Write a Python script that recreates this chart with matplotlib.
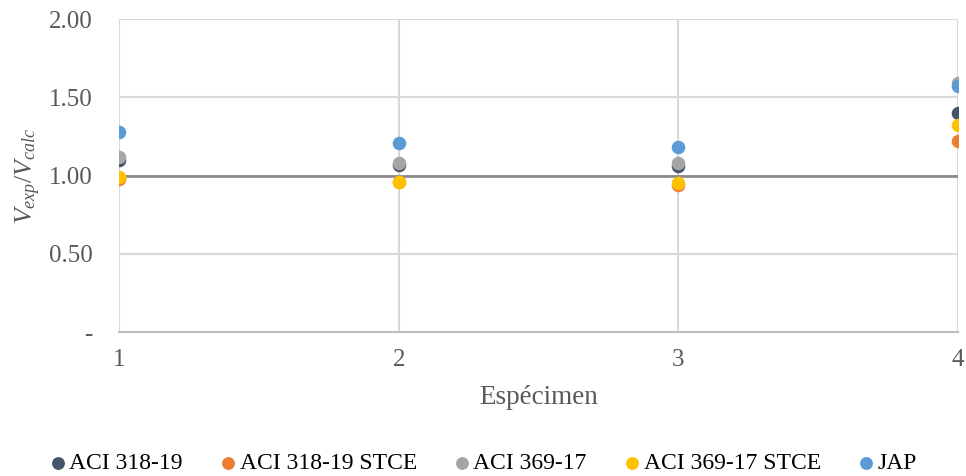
import numpy as np
import matplotlib
matplotlib.use("Agg")
import matplotlib.pyplot as plt

# datos
especimen = [1, 2, 3, 4]
aci318 = [1.10, 1.07, 1.06, 1.40]
aci318_stce = [0.98, 0.96, 0.94, 1.22]
aci369 = [1.12, 1.08, 1.08, 1.59]
aci369_stce = [0.99, 0.96, 0.955, 1.32]
jap = [1.28, 1.205, 1.18, 1.57]

series = [
    ("ACI 318-19", aci318, "#44546A"),
    ("ACI 318-19 STCE", aci318_stce, "#ED7D31"),
    ("ACI 369-17", aci369, "#A5A5A5"),
    ("ACI 369-17 STCE", aci369_stce, "#FFC000"),
    ("JAP", jap, "#5B9BD5"),
]

plt.rcParams['font.family'] = ['Liberation Serif', 'DejaVu Serif']
plt.rcParams['mathtext.fontset'] = 'custom'
plt.rcParams['mathtext.rm'] = 'Liberation Serif'
plt.rcParams['mathtext.it'] = 'Liberation Serif:italic'

fig = plt.figure(figsize=(9.66, 4.76), dpi=100)
ax = fig.add_axes([0.1232, 0.3025, 0.8685, 0.6575])

ax.plot([1, 4], [1.0, 1.0], color="#8C8C8C", lw=2, zorder=2)
for name, vals, col in series:
    ax.scatter(especimen, vals, s=95, color=col, label=name, zorder=3, linewidths=0)

ax.set_xlim(1, 4)
ax.set_ylim(0, 2)
ax.set_xticks(especimen)
ax.set_yticks([0, 0.5, 1.0, 1.5, 2.0])
ax.set_yticklabels(["-", "0.50", "1.00", "1.50", "2.00"])
ax.grid(True, color="#D9D9D9", lw=1.5, zorder=0)
ax.set_axisbelow(True)
for s in ["top", "right"]:
    ax.spines[s].set_visible(False)
ax.spines["left"].set_visible(False)
ax.spines["bottom"].set_color("#BFBFBF")
ax.spines["bottom"].set_linewidth(1.5)
ax.tick_params(length=0, labelsize=18, colors="#595959")
ax.tick_params(axis="x", pad=12)
ax.tick_params(axis="y", pad=19)

ax.set_xlabel("Espécimen", fontsize=19.5, color="#595959", labelpad=10)
ax.set_ylabel(r"$V_{exp}/V_{calc}$", fontsize=18.5, color="#595959", labelpad=4)

fig.legend(loc="lower center", bbox_to_anchor=(0.5, -0.04), ncol=5, frameon=False,
           fontsize=17, handlelength=0.7, handletextpad=0.15, columnspacing=1.55,
           markerscale=0.95)

plt.savefig("out.png", dpi=100)
